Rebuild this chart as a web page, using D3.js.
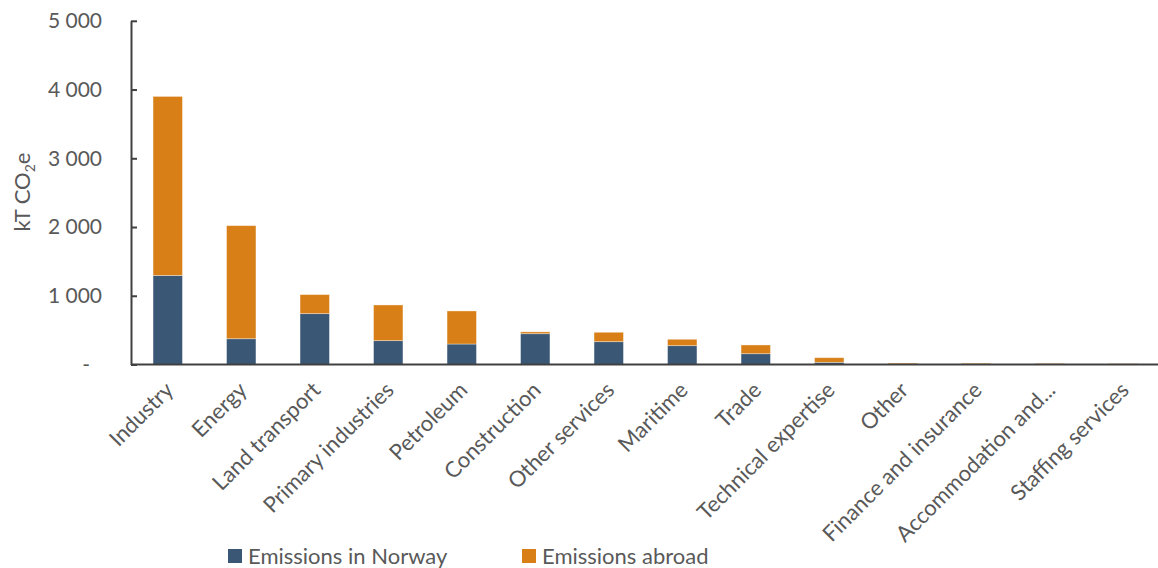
<!DOCTYPE html>
<html>
<head>
<meta charset="utf-8">
<script src="https://cdn.jsdelivr.net/npm/d3@7/dist/d3.min.js"></script>
<style>
  html, body { margin: 0; padding: 0; background: #fff; }
  svg { display: block; }
  text { font-family: Lato, "Open Sans", sans-serif; fill: #595959; }
</style>
</head>
<body>
<svg id="chart" width="1158" height="568"></svg>
<script>
const categories = ["Industry", "Energy", "Land transport", "Primary industries", "Petroleum",
  "Construction", "Other services", "Maritime", "Trade", "Technical expertise", "Other",
  "Finance and insurance", "Accommodation and...", "Staffing services"];
const norway = [1295, 375, 740, 347, 298, 448, 332, 274, 157, 32, 5, 4, 3, 2];
const abroad = [2605, 1645, 277, 519, 481, 27, 137, 93, 127, 67, 15, 14, 13, 10];
const seriesNames = ["Emissions in Norway", "Emissions abroad"];
const seriesColors = ["#3A5875", "#D97F17"];
const yTicks = [0, 1000, 2000, 3000, 4000, 5000];
const yTitle = ["kT CO", "2", "e"];

const svg = d3.select("#chart");
const x0 = 131, x1 = 1160, yBottom = 364.5, yTop = 20.8;

const x = d3.scaleBand().domain(categories).range([x0, x1]).paddingInner(0.6).paddingOuter(0.3);
const y = d3.scaleLinear().domain([0, 5000]).range([yBottom, yTop]);

const rows = categories.map((c, i) => ({ cat: c, norway: norway[i], abroad: abroad[i] }));
const stack = d3.stack().keys(["norway", "abroad"])(rows);

svg.append("g").selectAll("g").data(stack).join("g")
  .attr("fill", (d, i) => seriesColors[i])
  .selectAll("rect").data(d => d).join("rect")
  .attr("x", d => x(d.data.cat))
  .attr("width", x.bandwidth())
  .attr("y", d => y(d[1]))
  .attr("height", d => Math.max(0, y(d[0]) - y(d[1])))
  .attr("stroke", "rgba(255,255,255,0.45)")
  .attr("stroke-width", 0.8);

// Y axis
const fmt = v => v === 0 ? "-" : d3.format(",")(v).replace(/,/g, " ");
const yAxis = d3.axisLeft(y).tickValues(yTicks).tickFormat(fmt)
  .tickSizeInner(-6).tickSizeOuter(0).tickPadding(29);
const gy = svg.append("g").attr("transform", `translate(${x0},0)`).call(yAxis);
gy.select(".domain").attr("stroke", "#404040").attr("stroke-width", 2);
gy.selectAll(".tick line").attr("stroke", "#404040").attr("stroke-width", 2);
gy.selectAll(".tick text").attr("font-size", 21).attr("fill", "#595959")
  .attr("font-family", "Lato, sans-serif")
  .attr("dx", d => d === 0 ? -12 : 0);

// X axis
const xAxis = d3.axisBottom(x).tickSize(0).tickPadding(0);
const gx = svg.append("g").attr("transform", `translate(0,${yBottom})`).call(xAxis);
gx.select(".domain").attr("stroke", "#404040").attr("stroke-width", 2).attr("d", `M${x0},0H${x1}`);
gx.selectAll(".tick text")
  .attr("font-size", 22).attr("fill", "#595959").attr("font-family", "Lato, sans-serif")
  .attr("text-anchor", "end")
  .attr("dy", 0)
  .attr("transform", "translate(7,27) rotate(-45)");

// Y title
const t = svg.append("text").attr("transform", "translate(30,192) rotate(-90)")
  .attr("text-anchor", "middle").attr("font-size", 22);
t.append("tspan").text(yTitle[0]);
t.append("tspan").text(yTitle[1]).attr("font-size", 14).attr("dy", 5);
t.append("tspan").text(yTitle[2]).attr("dy", -5);

// Legend
const legendX = [228, 522];
const lg = svg.append("g").selectAll("g").data(seriesNames).join("g")
  .attr("transform", (d, i) => `translate(${legendX[i]},549)`);
lg.append("rect").attr("width", 14).attr("height", 14).attr("fill", (d, i) => seriesColors[i]);
lg.append("text").attr("x", 20).attr("y", 15).attr("font-size", 22).text(d => d);
</script>
</body>
</html>
